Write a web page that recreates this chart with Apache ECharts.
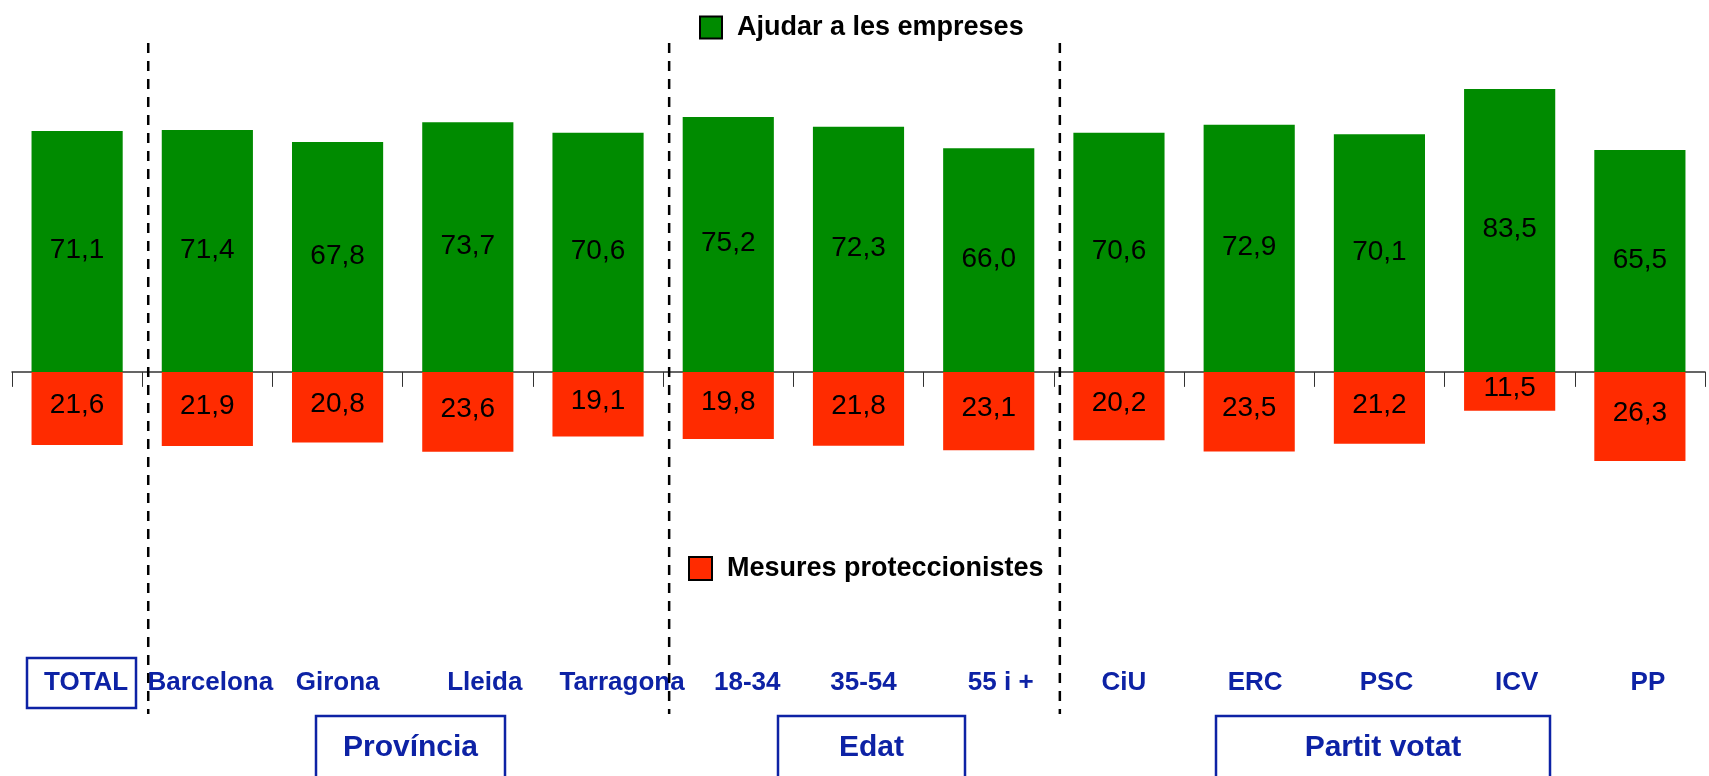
<!DOCTYPE html>
<html>
<head>
<meta charset="utf-8">
<script src="https://cdn.jsdelivr.net/npm/echarts@6.0.0/dist/echarts.min.js"></script>
<style>
  html, body { margin: 0; padding: 0; background: #fff; }
  #chart { width: 1709px; height: 776px; }
</style>
</head>
<body>
<div id="chart"></div>
<script>
// data
const categories = ['TOTAL', 'Barcelona', 'Girona', 'Lleida', 'Tarragona', '18-34', '35-54', '55 i +', 'CiU', 'ERC', 'PSC', 'ICV', 'PP'];
const ajudarValues = [71.1, 71.4, 67.8, 73.7, 70.6, 75.2, 72.3, 66.0, 70.6, 72.9, 70.1, 83.5, 65.5];
const mesuresValues = [21.6, 21.9, 20.8, 23.6, 19.1, 19.8, 21.8, 23.1, 20.2, 23.5, 21.2, 11.5, 26.3];
const seriesNames = ['Ajudar a les empreses', 'Mesures proteccionistes'];
const groupNames = ['Província', 'Edat', 'Partit votat'];
const separatorsAfter = ['TOTAL', 'Tarragona', '55 i +'];

// layout / styling
const FONT = '"Liberation Sans", Arial, sans-serif';
const GREEN = '#008b00';
const RED = '#ff2b00';
const BLUE = '#0d22a5';
// small horizontal nudges of the category labels (px), as in the original
const labelNudge = {'TOTAL': 9, 'Barcelona': 3, 'Lleida': 17, 'Tarragona': 24, '18-34': 19, '35-54': 5, '55 i +': 12, 'CiU': 5, 'ERC': 6, 'PSC': 7, 'ICV': 7, 'PP': 8};
const groupBoxes = [
  {x: 316, w: 189},
  {x: 778, w: 187},
  {x: 1216, w: 334}
];

function fmt(v) {
  return Math.abs(v).toFixed(1).replace('.', ',');
}

const chart = echarts.init(document.getElementById('chart'));

chart.setOption({
  animation: false,
  textStyle: {fontFamily: FONT},
  grid: {left: 12, right: 4, top: 33, bottom: 133},
  legend: [{
    data: [seriesNames[0]],
    left: 694,
    top: 9,
    icon: 'rect',
    itemWidth: 22,
    itemHeight: 22,
    itemStyle: {borderColor: '#000', borderWidth: 2},
    textStyle: {fontSize: 27, fontWeight: 'bold', color: '#000', fontFamily: FONT, padding: [0, 0, 0, 10]}
  }, {
    data: [seriesNames[1]],
    left: 683,
    top: 550,
    icon: 'rect',
    itemWidth: 23,
    itemHeight: 23,
    itemStyle: {borderColor: '#000', borderWidth: 2},
    textStyle: {fontSize: 27, fontWeight: 'bold', color: '#000', fontFamily: FONT, padding: [0, 0, 0, 10]}
  }],
  xAxis: [{
    type: 'category',
    data: categories,
    position: 'bottom',
    axisLine: {onZero: true, lineStyle: {color: '#333', width: 1.5}},
    axisTick: {show: true, length: 15, lineStyle: {color: '#333'}},
    axisLabel: {show: false},
    splitLine: {show: false}
  }, {
    type: 'category',
    data: categories.map(function (c) {
      return {value: c, textStyle: {padding: [0, 0, 0, 2 * (labelNudge[c] || 0)]}};
    }),
    position: 'bottom',
    axisLine: {show: false, onZero: false},
    axisTick: {show: false},
    axisLabel: {
      interval: 0,
      margin: 27,
      fontSize: 26,
      fontWeight: 'bold',
      color: BLUE,
      fontFamily: FONT
    },
    splitLine: {show: false}
  }],
  yAxis: {
    type: 'value',
    min: -80,
    max: 100,
    show: false,
    splitLine: {show: false}
  },
  series: [{
    name: seriesNames[0],
    type: 'bar',
    stack: 'total',
    barCategoryGap: '30%',
    data: ajudarValues,
    itemStyle: {color: GREEN},
    label: {
      show: true,
      position: 'inside',
      offset: [0, -1],
      formatter: function (p) { return fmt(p.value); },
      fontSize: 28,
      color: '#000',
      fontFamily: FONT
    }
  }, {
    name: seriesNames[1],
    type: 'bar',
    stack: 'total',
    barCategoryGap: '30%',
    data: mesuresValues.map(function (v) { return -v; }),
    itemStyle: {color: RED},
    label: {
      show: true,
      position: 'inside',
      offset: [0, -3],
      formatter: function (p) { return fmt(p.value); },
      fontSize: 28,
      color: '#000',
      fontFamily: FONT
    }
  }]
});

// separators and group boxes
const band = chart.convertToPixel({xAxisIndex: 0}, categories[1]) - chart.convertToPixel({xAxisIndex: 0}, categories[0]);
const graphics = [];
separatorsAfter.forEach(function (c) {
  const x = chart.convertToPixel({xAxisIndex: 0}, c) + band / 2 + 6;
  graphics.push({
    type: 'line',
    z: 20,
    shape: {x1: x, y1: 43, x2: x, y2: 714},
    style: {stroke: '#000', lineWidth: 2.5, lineDash: [10, 8]}
  });
});
graphics.push({
  type: 'rect',
  shape: {x: 27, y: 658, width: 109, height: 50},
  style: {fill: 'none', stroke: BLUE, lineWidth: 2.5}
});
groupNames.forEach(function (name, i) {
  const b = groupBoxes[i];
  graphics.push({
    type: 'rect',
    shape: {x: b.x, y: 716, width: b.w, height: 80},
    style: {fill: '#fff', stroke: BLUE, lineWidth: 2.5}
  });
  graphics.push({
    type: 'text',
    x: b.x + b.w / 2,
    y: 748,
    style: {
      text: name,
      align: 'center',
      verticalAlign: 'middle',
      fontSize: 30,
      fontWeight: 'bold',
      fontFamily: FONT,
      fill: BLUE
    }
  });
});
chart.setOption({graphic: graphics});
</script>
</body>
</html>
